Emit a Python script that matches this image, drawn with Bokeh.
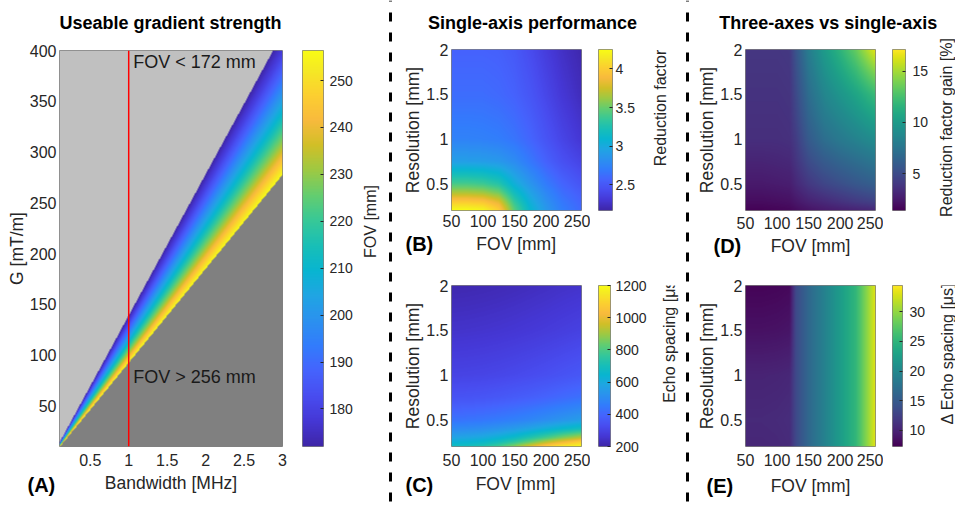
import numpy as np
from bokeh.plotting import figure
from bokeh.models import Range1d, LinearColorMapper, FixedTicker, Label, Span
from bokeh.layouts import row, column
from bokeh.embed import file_html
from bokeh.resources import INLINE
from bokeh.palettes import Viridis256

# ----------------------------- data -----------------------------
# (A) useable gradient strength
bw_limits = [0.1, 3.0]                      # bandwidth [MHz]
g_limits = [10, 400]                        # G [mT/m]
fov_levels = [172, 180, 190, 200, 210, 220, 230, 240, 250, 256]        # FOV [mm]
g_per_mhz = [139, 132, 125, 119, 113, 108, 103, 99, 95, 92.5]         # G/BW of each iso-FOV line
marker_bandwidth = 1.0
bw_ticks = [0.5, 1, 1.5, 2, 2.5, 3]
bw_tick_labels = ["0.5", "1", "1.5", "2", "2.5", "3"]
g_ticks = [50, 100, 150, 200, 250, 300, 350, 400]
g_tick_labels = ["50", "100", "150", "200", "250", "300", "350", "400"]
fov_cbar_limits = [172, 256.4]
fov_cbar_ticks = [180, 190, 200, 210, 220, 230, 240, 250]
fov_cbar_labels = ["180", "190", "200", "210", "220", "230", "240", "250"]

# common axes of (B)-(E)
fov_limits = [50, 256]
res_limits = [0.2, 2.0]
fov_ticks = [50, 100, 150, 200, 250]
fov_tick_labels = ["50", "100", "150", "200", "250"]
res_ticks = [0.5, 1, 1.5, 2]
res_tick_labels = ["0.5", "1", "1.5", "2"]

# (B) reduction factor, (C) echo spacing  -- rows: resolution, cols: FOV
fov_bc = [50, 75, 100, 125, 150, 175, 200, 225, 256]
res_bc = [0.2, 0.25, 0.3, 0.4, 0.5, 0.75, 1.0, 1.5, 2.0]
reduction_factor = [
    [4.25, 4.25, 4.22, 4.02, 3.45, 3.10, 2.88, 2.72, 2.60],
    [4.12, 4.12, 4.09, 3.92, 3.40, 3.07, 2.86, 2.70, 2.59],
    [3.98, 3.98, 3.95, 3.80, 3.33, 3.03, 2.83, 2.68, 2.57],
    [3.66, 3.66, 3.63, 3.52, 3.18, 2.95, 2.77, 2.63, 2.53],
    [3.40, 3.40, 3.37, 3.28, 3.04, 2.86, 2.70, 2.58, 2.48],
    [2.92, 2.92, 2.91, 2.88, 2.80, 2.68, 2.56, 2.46, 2.38],
    [2.74, 2.74, 2.73, 2.71, 2.66, 2.58, 2.48, 2.39, 2.30],
    [2.62, 2.62, 2.62, 2.60, 2.56, 2.49, 2.40, 2.31, 2.23],
    [2.56, 2.56, 2.56, 2.55, 2.51, 2.43, 2.34, 2.26, 2.19],
]
rf_limits = [2.17, 4.25]
rf_ticks = [2.5, 3, 3.5, 4]
rf_tick_labels = ["2.5", "3", "3.5", "4"]

echo_spacing = [
    [690, 700, 730, 790, 880, 990, 1090, 1160, 1200],
    [630, 640, 660, 700, 760, 840, 930, 1010, 1100],
    [575, 585, 600, 630, 670, 730, 790, 860, 930],
    [495, 500, 510, 528, 550, 580, 615, 650, 690],
    [430, 433, 440, 452, 466, 484, 505, 528, 555],
    [345, 348, 352, 360, 370, 380, 393, 408, 425],
    [300, 302, 305, 310, 317, 325, 334, 345, 358],
    [250, 252, 255, 259, 264, 270, 277, 285, 295],
    [212, 214, 217, 221, 226, 232, 238, 245, 252],
]
es_limits = [200, 1200]
es_ticks = [200, 400, 600, 800, 1000, 1200]
es_tick_labels = ["200", "400", "600", "800", "1000", "1200"]

# (D) reduction factor gain, (E) delta echo spacing
fov_de = [50, 75, 100, 120, 130, 150, 175, 200, 225, 256]
res_d = [0.2, 0.3, 0.5, 0.75, 1.0, 1.25, 1.5, 1.75, 2.0]
rf_gain = [
    [1.5, 1.5, 1.6, 1.7, 1.9, 2.2, 2.5, 2.7, 2.9, 3.1],
    [1.9, 1.9, 2.0, 2.1, 2.4, 2.9, 3.3, 3.7, 4.1, 4.5],
    [2.5, 2.5, 2.6, 2.7, 3.2, 4.0, 4.7, 5.2, 5.7, 6.2],
    [3.0, 3.0, 3.1, 3.2, 3.8, 5.0, 5.9, 6.5, 7.0, 7.6],
    [3.5, 3.5, 3.5, 3.6, 4.2, 5.9, 7.1, 7.8, 8.4, 9.1],
    [3.6, 3.6, 3.6, 3.7, 4.6, 6.5, 7.9, 8.7, 9.5, 10.6],
    [3.7, 3.7, 3.7, 3.8, 4.9, 7.0, 8.6, 9.6, 10.6, 12.1],
    [3.8, 3.8, 3.8, 3.9, 5.2, 7.5, 9.3, 10.6, 12.0, 14.2],
    [3.9, 3.9, 3.9, 4.0, 5.5, 8.0, 10.0, 11.6, 13.4, 16.5],
]
gain_limits = [1.4, 17.1]
gain_ticks = [5, 10, 15]
gain_tick_labels = ["5", "10", "15"]

res_e = [0.2, 0.5, 1.0, 1.5, 2.0]
delta_echo = [
    [10.3, 10.3, 10.4, 10.6, 13.3, 16.4, 19.2, 22.2, 25.2, 33.2],
    [10.5, 10.5, 10.6, 10.8, 13.3, 16.4, 19.2, 22.2, 25.2, 33.2],
    [10.0, 10.0, 10.1, 10.3, 13.3, 16.4, 19.2, 22.2, 25.2, 33.2],
    [8.5, 8.5, 8.6, 8.8, 13.3, 16.4, 19.2, 22.2, 25.2, 33.2],
    [7.6, 7.6, 7.7, 7.9, 13.3, 16.4, 19.2, 22.2, 25.2, 33.2],
]
de_limits = [7.3, 34.4]
de_ticks = [10, 15, 20, 25, 30]
de_tick_labels = ["10", "15", "20", "25", "30"]

# ----------------------------- style -----------------------------
FONT = "Liberation Sans"
TXT = "#262626"
FRAME = "#808080"

PARULA_STOPS = ["#3e26a8", "#4537d5", "#484df0", "#4563fd", "#327cfc", "#2b91ef",
                "#20a5e3", "#08b5d0", "#19bfb6", "#37c897", "#64cd6f", "#9dc943",
                "#d1bf27", "#f8ba3d", "#fccf30", "#f5e924", "#f9fb15"]
PARULA_POS = [i / 63 for i in (0, 4, 8, 12, 16, 20, 24, 28, 32, 36, 40, 44, 48, 52, 56, 60, 63)]


def make_palette(stops, pos, n=256):
    rgb = np.array([[int(s[i:i + 2], 16) for i in (1, 3, 5)] for s in stops], float)
    t = np.linspace(0, 1, n)
    cols = np.stack([np.interp(t, pos, rgb[:, k]) for k in range(3)], axis=1)
    return ["#%02x%02x%02x" % tuple(int(round(c)) for c in cc) for cc in cols]


PARULA = make_palette(PARULA_STOPS, PARULA_POS)


def display_grid(values, xs, ys, xlim, ylim, nx, ny):
    """Bilinear shading of the read grid at screen resolution (like shading interp)."""
    v = np.asarray(values, float)
    fx = xlim[0] + (np.arange(nx) + 0.5) * (xlim[1] - xlim[0]) / nx
    fy = ylim[0] + (np.arange(ny) + 0.5) * (ylim[1] - ylim[0]) / ny
    tmp = np.array([np.interp(fx, xs, r) for r in v])
    return np.array([np.interp(fy, ys, tmp[:, j]) for j in range(nx)]).T


def style_axis(ax, ticks, labels, tick_size, standoff, label_standoff=0):
    ax.ticker = FixedTicker(ticks=ticks)
    ax.major_label_overrides = dict(zip(ticks, labels))
    ax.axis_line_color = None
    ax.major_tick_in = 0
    ax.major_tick_out = 0
    ax.minor_tick_in = 0
    ax.minor_tick_out = 0
    ax.major_tick_line_color = None
    ax.minor_tick_line_color = None
    ax.major_label_text_font = FONT
    ax.major_label_text_font_size = tick_size
    ax.major_label_text_color = TXT
    ax.major_label_standoff = standoff
    ax.axis_label_text_font = FONT
    ax.axis_label_text_font_size = "17.5px"
    ax.axis_label_text_font_style = "normal"
    ax.axis_label_text_color = TXT
    ax.axis_label_standoff = label_standoff


def panel(width, height, borders, xlim, ylim, xt, xl, yt, yl, ytitle, xstand):
    bl, br, bt, bb = borders
    p = figure(width=width, height=height, x_range=Range1d(*xlim), y_range=Range1d(*ylim),
               output_backend="svg", toolbar_location=None, tools="", title=None,
               min_border_left=bl, min_border_right=br, min_border_top=bt, min_border_bottom=bb)
    p.grid.visible = False
    p.outline_line_color = FRAME
    p.outline_line_width = 1
    p.yaxis.axis_label = ytitle
    style_axis(p.xaxis[0], xt, xl, "16px", xstand)
    style_axis(p.yaxis[0], yt, yl, "16px", 3, 0)
    return p


def colorbar(width, height, borders, limits, palette, ticks, labels, standoff):
    bl, br, bt, bb = borders
    p = figure(width=width, height=height, x_range=Range1d(0, 1), y_range=Range1d(*limits),
               output_backend="svg", toolbar_location=None, tools="", title=None,
               x_axis_location=None, y_axis_location="right",
               min_border_left=bl, min_border_right=br, min_border_top=bt, min_border_bottom=bb)
    p.grid.visible = False
    p.outline_line_color = FRAME
    mapper = LinearColorMapper(palette=palette, low=limits[0], high=limits[1])
    ramp = np.linspace(limits[0], limits[1], 256).reshape(256, 1)
    p.image(image=[ramp], x=0, y=limits[0], dw=1, dh=limits[1] - limits[0], color_mapper=mapper)
    ax = p.yaxis[0]
    style_axis(ax, ticks, labels, "14px", standoff)
    ax.major_tick_in = 3
    ax.major_tick_line_color = TXT
    ax.major_tick_line_width = 1
    return p


def lab(text, x, y, size="17.5px", bold=False, align="center", angle=0.0, color=TXT):
    return dict(text=text, x=x, y=y, text_font_size=size,
                text_font_style="bold" if bold else "normal", text_align=align,
                angle=angle, text_color=color)


def strip(width, height, labels=(), dashed=False):
    p = figure(width=width, height=height, x_range=Range1d(0, 1), y_range=Range1d(0, 1),
               output_backend="svg", toolbar_location=None, tools="", title=None,
               x_axis_location=None, y_axis_location=None, min_border=0)
    p.grid.visible = False
    p.outline_line_color = None
    for spec in labels:
        p.add_layout(Label(x_units="screen", y_units="screen", text_font=FONT,
                           text_baseline="middle", **spec))
    if dashed:
        p.add_layout(Span(location=0.5, dimension="height", line_color="black",
                          line_width=3, line_dash="9 11", line_dash_offset=8))
    return p


VERT = np.pi / 2

# ----------------------------- panel A -----------------------------
figA = panel(292, 432, (59, 10, 9, 27), bw_limits, g_limits, bw_ticks, bw_tick_labels,
             g_ticks, g_tick_labels, "G [mT/m]", 7)
nxA, nyA = 223, 396
bw_px = bw_limits[0] + (np.arange(nxA) + 0.5) * (bw_limits[1] - bw_limits[0]) / nxA
g_px = g_limits[0] + (np.arange(nyA) + 0.5) * (g_limits[1] - g_limits[0]) / nyA
slope = g_px[:, None] / bw_px[None, :]
fov_img = np.interp(slope, g_per_mhz[::-1], fov_levels[::-1], left=1000.0, right=0.0)
mapperA = LinearColorMapper(palette=PARULA, low=fov_cbar_limits[0], high=fov_cbar_limits[1],
                            low_color="#c0c0c0", high_color="#808080")
figA.image(image=[fov_img], x=bw_limits[0], y=g_limits[0], dw=bw_limits[1] - bw_limits[0],
           dh=g_limits[1] - g_limits[0], color_mapper=mapperA)
figA.add_layout(Span(location=marker_bandwidth, dimension="height", line_color="#ff0000", line_width=1.5))
for txt, yy in (("FOV < 172 mm", 388.5), ("FOV > 256 mm", 78.5)):
    figA.add_layout(Label(x=1.06, y=yy, text=txt, text_font=FONT, text_font_size="18px",
                          text_color="#1a1a1a", text_align="left", text_baseline="middle"))
cbA = colorbar(63, 432, (10, 32, 9, 27), fov_cbar_limits, PARULA, fov_cbar_ticks, fov_cbar_labels, 6)
cbtA = strip(31, 432, [lab("FOV [mm]", 15, 225, "16px", angle=VERT)])
titleA = strip(386, 41, [lab("Useable gradient strength", 170, 18.3, "18px", bold=True, color="black")])
stripA = strip(386, 33, [lab("(A)", 27, 21.5, "20px", bold=True, align="left", color="black"),
                         lab("Bandwidth [MHz]", 170.5, 23.5)])
colA = column(titleA, row(figA, cbA, cbtA), stripA)

# ----------------------------- panels B, C -----------------------------
figB = panel(196, 191, (57, 9, 8, 22), fov_limits, res_limits, fov_ticks, fov_tick_labels,
             res_ticks, res_tick_labels, "Resolution [mm]", 4)
mapB = LinearColorMapper(palette=PARULA, low=rf_limits[0], high=rf_limits[1])
figB.image(image=[display_grid(reduction_factor, fov_bc, res_bc, fov_limits, res_limits, 130, 161)],
           x=fov_limits[0], y=res_limits[0], dw=fov_limits[1] - fov_limits[0],
           dh=res_limits[1] - res_limits[0], color_mapper=mapB)
cbB = colorbar(50, 191, (8, 28, 8, 22), rf_limits, PARULA, rf_ticks, rf_tick_labels, 3)
cbtB = strip(43, 191, [lab("Reduction factor", 20, 102.5, "16px", angle=VERT)])
stripB = strip(289, 30, [lab("(B)", 11, 18.5, "20px", bold=True, align="left", color="black"),
                         lab("FOV [mm]", 121.7, 19)])

figC = panel(196, 211, (57, 9, 23, 27), fov_limits, res_limits, fov_ticks, fov_tick_labels,
             res_ticks, res_tick_labels, "Resolution [mm]", 7)
mapC = LinearColorMapper(palette=PARULA, low=es_limits[0], high=es_limits[1])
figC.image(image=[display_grid(echo_spacing, fov_bc, res_bc, fov_limits, res_limits, 130, 161)],
           x=fov_limits[0], y=res_limits[0], dw=fov_limits[1] - fov_limits[0],
           dh=res_limits[1] - res_limits[0], color_mapper=mapC)
cbC = colorbar(59, 211, (8, 37, 23, 27), es_limits, PARULA, es_ticks, es_tick_labels, 5)
cbtC = strip(34, 211, [lab("Echo spacing [\u03bcs]", 20, 107, "16px", angle=VERT)])
stripC = strip(289, 33, [lab("(C)", 11, 21.5, "20px", bold=True, align="left", color="black"),
                         lab("FOV [mm]", 121, 22.5)])
titleB = strip(289, 41, [lab("Single-axis performance", 138, 18.3, "18px", bold=True, color="black")])
colB = column(titleB, row(figB, cbB, cbtB), stripB, row(figC, cbC, cbtC), stripC)

# ----------------------------- panels D, E -----------------------------
figD = panel(192, 193, (54, 8, 8, 24), fov_limits, res_limits, fov_ticks, fov_tick_labels,
             res_ticks, res_tick_labels, "Resolution [mm]", 6)
mapD = LinearColorMapper(palette=Viridis256, low=gain_limits[0], high=gain_limits[1])
figD.image(image=[display_grid(rf_gain, fov_de, res_d, fov_limits, res_limits, 130, 161)],
           x=fov_limits[0], y=res_limits[0], dw=fov_limits[1] - fov_limits[0],
           dh=res_limits[1] - res_limits[0], color_mapper=mapD)
cbD = colorbar(55, 193, (9, 33, 8, 24), gain_limits, Viridis256, gain_ticks, gain_tick_labels, 7)
cbtD = strip(17, 234, [lab("Reduction factor gain [%]", 7.5, 107, "16px", angle=VERT)])
titleD = strip(247, 41, [lab("Three-axes vs single-axis", 136.8, 18.3, "18px", bold=True, color="black")])
stripD = strip(264, 28, [lab("(D)", 22, 16.5, "20px", bold=True, align="left", color="black"),
                         lab("FOV [mm]", 119, 17)])

figE = panel(192, 211, (54, 8, 23, 27), fov_limits, res_limits, fov_ticks, fov_tick_labels,
             res_ticks, res_tick_labels, "Resolution [mm]", 7)
mapE = LinearColorMapper(palette=Viridis256, low=de_limits[0], high=de_limits[1])
figE.image(image=[display_grid(delta_echo, fov_de, res_e, fov_limits, res_limits, 130, 161)],
           x=fov_limits[0], y=res_limits[0], dw=fov_limits[1] - fov_limits[0],
           dh=res_limits[1] - res_limits[0], color_mapper=mapE)
cbE = colorbar(45, 211, (9, 23, 23, 27), de_limits, Viridis256, de_ticks, de_tick_labels, 7)
cbtE = strip(27, 211, [lab("\u0394 Echo spacing [\u03bcs]", 19, 93, "16px", angle=VERT)])
stripE = strip(264, 33, [lab("(E)", 15, 20.3, "20px", bold=True, align="left", color="black"),
                         lab("FOV [mm]", 119, 21)])
colD = column(row(column(titleD, row(figD, cbD)), cbtD), stripD,
              row(figE, cbE, cbtE), stripE)

sep1 = strip(8, 506, dashed=True)
sep2 = strip(8, 506, dashed=True)

layout = row(colA, sep1, colB, sep2, colD)

with open("out.html", "w") as f:
    f.write(file_html(layout, INLINE, title="Gradient performance"))
